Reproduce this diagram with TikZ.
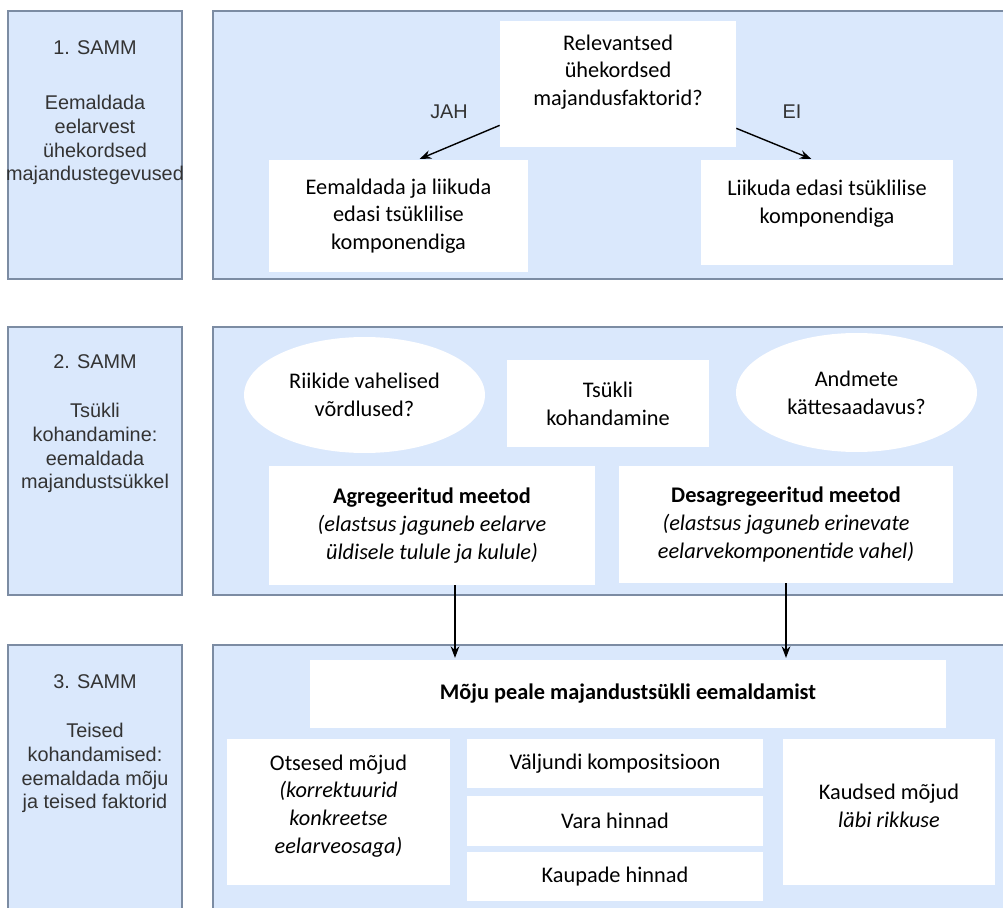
\documentclass[tikz,border=0pt]{standalone}
\usepackage{fontspec}
\setmainfont{Carlito}
\newfontfamily\arialfont{Liberation Sans}
\usetikzlibrary{shapes.geometric,arrows.meta,positioning}
\definecolor{panelblue}{HTML}{DAE8FC}
\definecolor{framegray}{HTML}{7C8CA3}
\definecolor{labelgray}{HTML}{333333}

\tikzset{
  stepbox/.style={draw=framegray, fill=panelblue, line width=0.8pt, minimum width=3.48cm, minimum height=5.36cm},
  panel/.style={draw=framegray, fill=panelblue, line width=0.8pt, minimum width=15.94cm, minimum height=5.36cm},
  steptext/.style={font=\arialfont\fontsize{11.3}{13.6}\selectfont, text=labelgray, align=center, inner sep=0pt},
  card/.style={fill=white, align=center, inner sep=1pt, font=\fontsize{12.7}{15.8}\selectfont},
  oval/.style={ellipse, fill=white, align=center, inner sep=0pt, font=\fontsize{12.7}{15.8}\selectfont},
}

\begin{document}
\begin{tikzpicture}[x=0.02cm, y=-0.02cm, >=Stealth, shorten >=1pt]
  \useasboundingbox (0,0) rectangle (1003,908);

  % left column
  \node[stepbox] (s_1) at (95,145) {};
  \node[stepbox] (s_2) at (95,461) {};
  \node[stepbox, minimum height=5.4cm] (s_3) at (95,780) {};
  \node[steptext] (s_1t) at (95,48) {1. SAMM};
  \node[steptext] (s_1d) at (95,140) {Eemaldada\\eelarvest\\ühekordsed\\majandustegevused};
  \node[steptext] (s_2t) at (95,362) {2. SAMM};
  \node[steptext] (s_2d) at (95,448) {Tsükli\\kohandamine:\\eemaldada\\majandustsükkel};
  \node[steptext] (s_3t) at (95,682) {3. SAMM};
  \node[steptext] (s_3d) at (95,768) {Teised\\kohandamised:\\eemaldada mõju\\ja teised faktorid};

  % panels
  \node[panel] (p_1) at (611.5,145) {};
  \node[panel] (p_2) at (611.5,461) {};
  \node[panel, minimum height=5.4cm] (p_3) at (611.5,780) {};

  % step 1
  \node[card, minimum width=4.72cm, minimum height=2.52cm] (q) at (618,84) {};
  \node[card, fill=none] (q_t) at (618,72) {Relevantsed\\ühekordsed\\majandusfaktorid?};
  \node[card, minimum width=5.18cm, minimum height=2.24cm] (a_1) at (398.5,216) {Eemaldada ja liikuda\\edasi tsüklilise\\komponendiga};
  \node[card, minimum width=5.04cm, minimum height=2.10cm] (a_2) at (827,212.5) {};
  \node[card, fill=none] (a_2t) at (827,204) {Liikuda edasi tsüklilise\\komponendiga};
  \node[steptext] (jah) at (449,112) {JAH};
  \node[steptext] (ei) at (792,112) {EI};
  \path[->, line width=0.8pt]
    ([yshift=0.44cm]q.south west) edge ([xshift=0.39cm]a_1.north)
    ([yshift=0.38cm]q.south east) edge ([xshift=-0.28cm]a_2.north);

  % step 2
  \node[oval, minimum width=4.82cm, minimum height=2.32cm] (e_1) at (364.5,395) {Riikide vahelised\\võrdlused?};
  \node[card, minimum width=4.04cm, minimum height=1.74cm] (t) at (608,403.5) {Tsükli\\kohandamine};
  \node[oval, minimum width=4.82cm, minimum height=2.38cm] (e_2) at (856.5,392.5) {Andmete\\kättesaadavus?};
  \node[card, minimum width=6.52cm, minimum height=2.38cm] (ag) at (432,525.5) {\textbf{Agregeeritud meetod}\\\textit{(elastsus jaguneb eelarve}\\\textit{üldisele tulule ja kulule)}};
  \node[card, minimum width=6.68cm, minimum height=2.34cm] (de) at (786,524.5) {\textbf{Desagregeeritud meetod}\\\textit{(elastsus jaguneb erinevate}\\\textit{eelarvekomponentide vahel)}};

  % step 3
  \node[card, minimum width=12.72cm, minimum height=1.36cm] (m) at (628,694) {\textbf{Mõju peale majandustsükli eemaldamist}};
  \node[card, minimum width=4.46cm, minimum height=2.92cm] (o) at (338.5,812) {};
  \node[card, fill=none] (o_t) at (338.5,806) {Otsesed mõjud\\\textit{(korrektuurid}\\\textit{konkreetse}\\\textit{eelarveosaga)}};
  \node[card, minimum width=5.92cm, minimum height=0.98cm] (v_1) at (615,763.5) {Väljundi kompositsioon};
  \node[card, minimum width=5.92cm, minimum height=1.0cm, below=0.14cm of v_1] (v_2) {Vara hinnad};
  \node[card, minimum width=5.92cm, minimum height=0.98cm, below=0.12cm of v_2] (v_3) {Kaupade hinnad};
  \node[card, minimum width=4.24cm, minimum height=2.92cm] (k) at (889,812) {};
  \node[card, fill=none] (k_t) at (889,806) {Kaudsed mõjud\\\textit{läbi rikkuse}};

  \path[->, line width=0.8pt]
    ([xshift=0.46cm]ag.south) edge ([xshift=0.46cm]ag.south |- m.north)
    (de.south) edge (de.south |- m.north);
\end{tikzpicture}
\end{document}
